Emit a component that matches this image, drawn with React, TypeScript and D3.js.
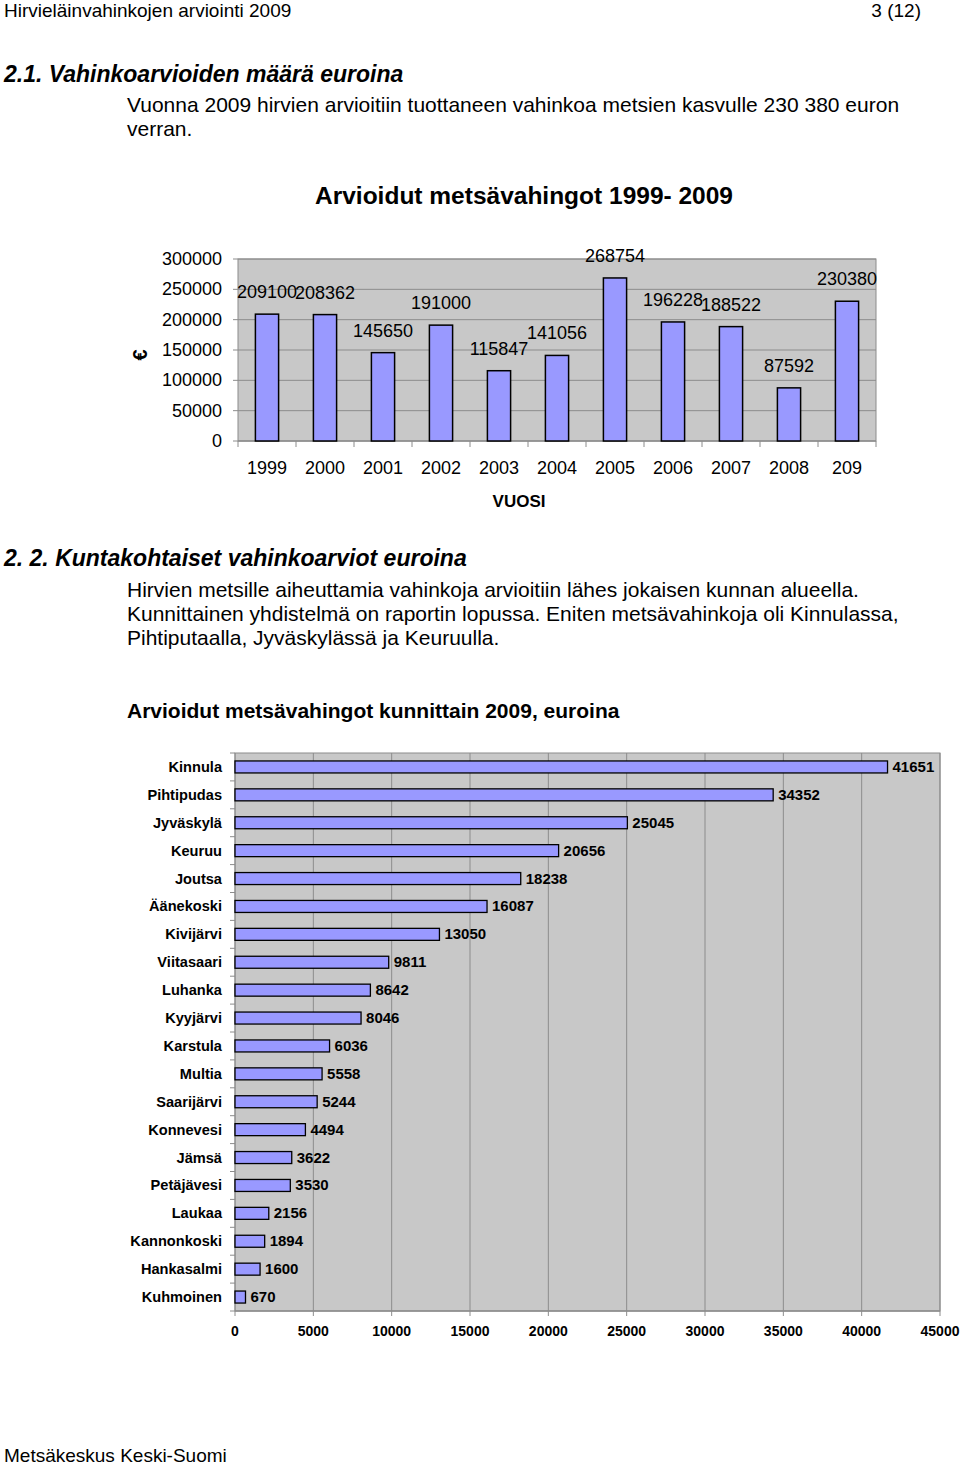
import * as d3 from "d3";

const years = ["1999", "2000", "2001", "2002", "2003", "2004", "2005", "2006", "2007", "2008", "209"];
const yearValues = [209100, 208362, 145650, 191000, 115847, 141056, 268754, 196228, 188522, 87592, 230380];
const yTicks = [0, 50000, 100000, 150000, 200000, 250000, 300000];

const towns = [
  "Kinnula", "Pihtipudas", "Jyväskylä", "Keuruu", "Joutsa", "Äänekoski", "Kivijärvi",
  "Viitasaari", "Luhanka", "Kyyjärvi", "Karstula", "Multia", "Saarijärvi", "Konnevesi",
  "Jämsä", "Petäjävesi", "Laukaa", "Kannonkoski", "Hankasalmi", "Kuhmoinen",
];
const townValues = [
  41651, 34352, 25045, 20656, 18238, 16087, 13050, 9811, 8642, 8046, 6036, 5558, 5244, 4494,
  3622, 3530, 2156, 1894, 1600, 670,
];
const xTicks = [0, 5000, 10000, 15000, 20000, 25000, 30000, 35000, 40000, 45000];

const FONT = "'Liberation Sans', Arial, Helvetica, sans-serif";
const BG = "#c8c8c8";
const GRID = "#8c8c8c";
const BAR = "#9999ff";

function TopChart() {
  const left = 238, right = 876, top = 259, bottom = 441;
  const x = d3.scaleBand().domain(years).range([left, right]).paddingInner(0.6).paddingOuter(0.3);
  const y = d3.scaleLinear().domain([0, 300000]).range([bottom, top]);
  const bounds = d3.range(years.length + 1).map((i) => left + ((right - left) / years.length) * i);
  return (
    <g fontFamily={FONT}>
      <text x={524} y={204} textAnchor="middle" fontSize={24.5} fontWeight="bold">
        Arvioidut metsävahingot 1999- 2009
      </text>
      <rect x={left} y={top} width={right - left} height={bottom - top} fill={BG} stroke={GRID} />
      {yTicks.map((t) => (
        <g key={t}>
          <line x1={left} x2={right} y1={y(t)} y2={y(t)} stroke={GRID} />
          <line x1={left - 5} x2={left} y1={y(t)} y2={y(t)} stroke={GRID} />
          <text x={222} y={y(t) + 6} textAnchor="end" fontSize={18}>{t}</text>
        </g>
      ))}
      <line x1={left} x2={right} y1={bottom} y2={bottom} stroke={GRID} />
      {bounds.map((b, i) => (
        <line key={i} x1={b} x2={b} y1={bottom} y2={bottom + 6} stroke={GRID} />
      ))}
      {years.map((yr, i) => (
        <g key={yr}>
          <rect
            x={x(yr)!}
            y={y(yearValues[i])}
            width={x.bandwidth()}
            height={bottom - y(yearValues[i])}
            fill={BAR}
            stroke="#000"
            strokeWidth={1.5}
          />
          <text x={x(yr)! + x.bandwidth() / 2} y={y(yearValues[i]) - 16} textAnchor="middle" fontSize={18}>
            {yearValues[i]}
          </text>
          <text x={x(yr)! + x.bandwidth() / 2} y={474} textAnchor="middle" fontSize={18}>{yr}</text>
        </g>
      ))}
      <text x={519} y={507} textAnchor="middle" fontSize={17} fontWeight="bold">VUOSI</text>
      <text transform="translate(147,355) rotate(-90)" textAnchor="middle" fontSize={20} fontWeight="bold">€</text>
    </g>
  );
}

function BottomChart() {
  const left = 235, right = 940, top = 753, bottom = 1311;
  const x = d3.scaleLinear().domain([0, 45000]).range([left, right]);
  const y = d3.scaleBand().domain(towns).range([top, bottom]).paddingInner(0.57).paddingOuter(0.285);
  const rowStep = (bottom - top) / towns.length;
  return (
    <g fontFamily={FONT}>
      <text x={127} y={718} fontSize={21} fontWeight="bold">Arvioidut metsävahingot kunnittain 2009, euroina</text>
      <rect x={left} y={top} width={right - left} height={bottom - top} fill={BG} stroke={GRID} />
      {xTicks.map((t) => (
        <g key={t}>
          <line x1={x(t)} x2={x(t)} y1={top} y2={bottom} stroke={GRID} />
          <line x1={x(t)} x2={x(t)} y1={bottom} y2={bottom + 5} stroke={GRID} />
          <text x={x(t)} y={1336} textAnchor="middle" fontSize={14} fontWeight="bold">{t}</text>
        </g>
      ))}
      <line x1={left} x2={right} y1={bottom} y2={bottom} stroke={GRID} strokeWidth={1.5} />
      {d3.range(towns.length + 1).map((i) => (
        <line key={i} x1={left - 5} x2={left} y1={top + rowStep * i} y2={top + rowStep * i} stroke={GRID} />
      ))}
      {towns.map((t, i) => {
        const cy = y(t)! + y.bandwidth() / 2;
        return (
          <g key={t}>
            <rect
              x={x(0)}
              y={y(t)!}
              width={x(townValues[i]) - x(0)}
              height={y.bandwidth()}
              fill={BAR}
              stroke="#000"
              strokeWidth={1.3}
            />
            <text x={x(townValues[i]) + 5} y={cy + 5} fontSize={15} fontWeight="bold">{townValues[i]}</text>
            <text x={222} y={cy + 5} textAnchor="end" fontSize={14.6} fontWeight="bold">{t}</text>
          </g>
        );
      })}
    </g>
  );
}

export default function App() {
  return (
    <svg
      width={960}
      height={1466}
      style={{ position: "absolute", left: 0, top: 0, background: "#fff" }}
      fontFamily={FONT}
    >
      <text x={4} y={17} fontSize={19}>Hirvieläinvahinkojen arviointi 2009</text>
      <text x={921} y={17} fontSize={19} textAnchor="end">3 (12)</text>
      <text x={4} y={82} fontSize={23} fontWeight="bold" fontStyle="italic">2.1. Vahinkoarvioiden määrä euroina</text>
      <text x={127} y={112} fontSize={21}>Vuonna 2009 hirvien arvioitiin tuottaneen vahinkoa metsien kasvulle 230 380 euron</text>
      <text x={127} y={136} fontSize={21}>verran.</text>
      <TopChart />
      <text x={4} y={566} fontSize={23} fontWeight="bold" fontStyle="italic">2. 2. Kuntakohtaiset vahinkoarviot euroina</text>
      <text x={127} y={597} fontSize={21}>Hirvien metsille aiheuttamia vahinkoja arvioitiin lähes jokaisen kunnan alueella.</text>
      <text x={127} y={621} fontSize={21}>Kunnittainen yhdistelmä on raportin lopussa. Eniten metsävahinkoja oli Kinnulassa,</text>
      <text x={127} y={645} fontSize={21}>Pihtiputaalla, Jyväskylässä ja Keuruulla.</text>
      <BottomChart />
      <text x={4} y={1462} fontSize={19}>Metsäkeskus Keski-Suomi</text>
    </svg>
  );
}
